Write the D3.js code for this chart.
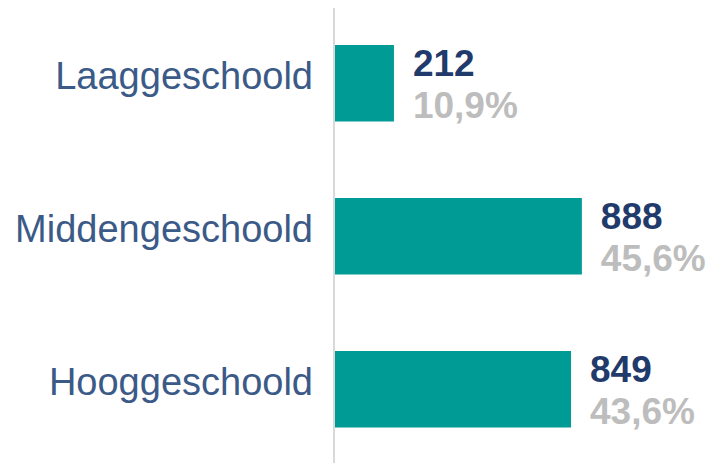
<!DOCTYPE html>
<html>
<head>
<meta charset="utf-8">
<script src="https://cdn.jsdelivr.net/npm/d3@7"></script>
<style>
  body { margin: 0; background: #fff; }
  text { font-family: "Liberation Sans", Arial, sans-serif; }
</style>
</head>
<body>
<div id="chart"></div>
<script>
// opleidingsniveau
const categories = ["Laaggeschoold", "Middengeschoold", "Hooggeschoold"];
const counts = [212, 888, 849];
const percentLabels = ["10,9%", "45,6%", "43,6%"];

const width = 714, height = 463;

const svg = d3.select("#chart").append("svg")
    .attr("width", width)
    .attr("height", height);

const x = d3.scaleLinear()
    .domain([0, 1000])
    .range([335, 613]);

const y = d3.scaleBand()
    .domain(categories)
    .range([6.75, 465.75])
    .paddingInner(0.5)
    .paddingOuter(0.25);

let data = categories.map(function(c, i) {
    return { cat: c, count: counts[i], pct: percentLabels[i] };
});

// bars
svg.selectAll(".bar")
    .data(data)
    .enter().append("rect")
    .attr("class", "bar")
    .attr("x", x(0))
    .attr("y", d => y(d.cat))
    .attr("width", d => x(d.count) - x(0))
    .attr("height", y.bandwidth())
    .attr("fill", "#009B95");

// vertical axis line
svg.append("line")
    .attr("x1", x(0) - 1).attr("x2", x(0) - 1)
    .attr("y1", 8).attr("y2", height)
    .attr("stroke", "#d9d9d9")
    .attr("stroke-width", 2);

// category labels
svg.selectAll(".cat")
    .data(data)
    .enter().append("text")
    .attr("class", "cat")
    .attr("x", 313)
    .attr("y", d => y(d.cat) + y.bandwidth() / 2 + 6)
    .attr("text-anchor", "end")
    .attr("font-size", 38)
    .attr("fill", "#3B5A87")
    .text(d => d.cat);

// value labels
svg.selectAll(".val")
    .data(data)
    .enter().append("text")
    .attr("class", "val")
    .attr("x", d => x(d.count) + 19)
    .attr("y", d => y(d.cat) + 31)
    .attr("font-size", 37)
    .attr("font-weight", "bold")
    .attr("fill", "#1F3A6B")
    .text(d => d.count);

svg.selectAll(".pct")
    .data(data)
    .enter().append("text")
    .attr("class", "pct")
    .attr("x", d => x(d.count) + 19)
    .attr("y", d => y(d.cat) + 73)
    .attr("font-size", 37)
    .attr("font-weight", "bold")
    .attr("fill", "#BDBDBD")
    .text(d => d.pct);
</script>
</body>
</html>
